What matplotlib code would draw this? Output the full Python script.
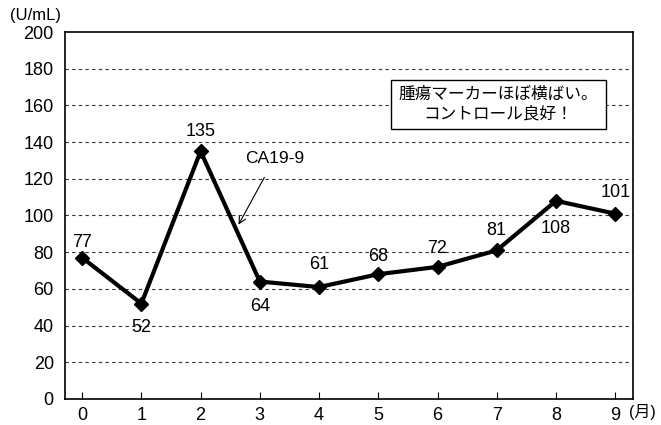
import matplotlib
matplotlib.use("Agg")
import matplotlib.pyplot as plt

plt.rcParams["font.family"] = ["Liberation Sans", "Noto Sans CJK JP"]

months = [0, 1, 2, 3, 4, 5, 6, 7, 8, 9]
ca199 = [77, 52, 135, 64, 61, 68, 72, 81, 108, 101]
yticks = list(range(0, 201, 20))

# vertical offset (points) of each value label from its marker
label_dy = [11, -17, 14, -18, 16, 13, 13, 14, -20, 15]

fig = plt.figure(figsize=(6.61, 4.25), dpi=100)
ax = fig.add_axes([0.0983, 0.0612, 0.8593, 0.8635])

for y in yticks[1:-1]:
    ax.axhline(y, color="#333333", lw=0.8, ls=(0, (3, 3)), zorder=1)

ax.plot(months, ca199, color="black", lw=3.0, marker="D", ms=7.5, zorder=3)

for x, v, dy in zip(months, ca199, label_dy):
    ax.annotate(str(v), (x, v), xytext=(0, dy), textcoords="offset points",
                ha="center", va="center", fontsize=13)

ax.annotate("CA19-9", xy=(2.64, 95), xytext=(3.25, 131),
            ha="center", va="center", fontsize=12.5,
            arrowprops=dict(arrowstyle="->", color="black", lw=0.8,
                            shrinkA=7, shrinkB=0))

ax.text(7.03, 160.5, "腫瘍マーカーほぼ横ばい。\nコントロール良好！",
        ha="center", va="center", fontsize=12, linespacing=1.3,
        bbox=dict(boxstyle="square,pad=0.45", fc="white", ec="black", lw=1.0),
        zorder=4)

ax.set_xlim(-0.29, 9.3)
ax.set_ylim(0, 200)
ax.set_xticks(months)
ax.set_yticks(yticks)
ax.tick_params(axis="x", direction="in", length=5, width=0.8, labelsize=13, pad=6)
ax.tick_params(axis="y", length=0, labelsize=13, pad=8)
for s in ax.spines.values():
    s.set_linewidth(1.2)

fig.text(0.015, 0.964, "(U/mL)", ha="left", va="center", fontsize=12)
fig.text(0.952, 0.031, "(月)", ha="left", va="center", fontsize=11.5)

fig.savefig("out.png", dpi=100)
